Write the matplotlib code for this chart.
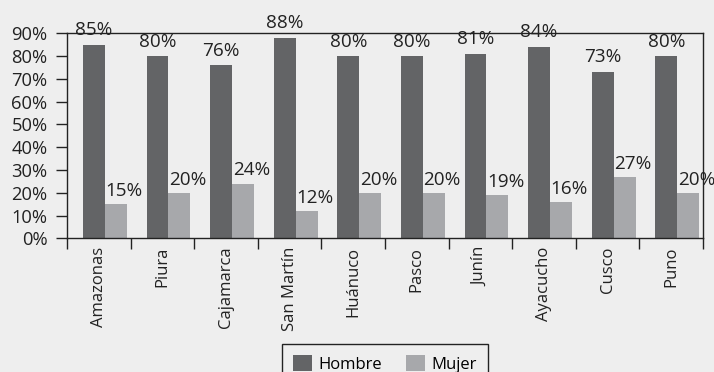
import matplotlib
matplotlib.use("Agg")
import matplotlib.pyplot as plt
import numpy as np

# Data
departamentos = ["Amazonas", "Piura", "Cajamarca", "San Martín", "Huánuco",
                 "Pasco", "Junín", "Ayacucho", "Cusco", "Puno"]
hombre = [85, 80, 76, 88, 80, 80, 81, 84, 73, 80]
mujer = [15, 20, 24, 12, 20, 20, 19, 16, 27, 20]
yticks = [0, 10, 20, 30, 40, 50, 60, 70, 80, 90]

plt.rcParams["font.family"] = ["Open Sans", "DejaVu Sans"]
NUM_SIZE = 13.6
BG = "#eeeeee"
C_H = "#636466"
C_M = "#a7a8ab"
TXT = "#222222"

fig = plt.figure(figsize=(7.14, 3.72), dpi=100, facecolor=BG)
ax = fig.add_axes([0.0938, 0.3594, 0.8908, 0.5511], facecolor=BG)

x = np.arange(len(departamentos))
w = 0.345
bh = ax.bar(x - 0.077, hombre, width=w, color=C_H, label="Hombre", zorder=2)
bm = ax.bar(x + 0.268, mujer, width=w, color=C_M, label="Mujer", zorder=2)

for xi, v in zip(x - 0.077, hombre):
    ax.annotate(f"{v}%", (xi, v), xytext=(0, 4), textcoords="offset points",
                ha="center", va="bottom", fontsize=NUM_SIZE, color=TXT,
                annotation_clip=False)
for xi, v in zip(x + 0.268, mujer):
    ax.annotate(f"{v}%", (xi, v), xytext=(6, 3), textcoords="offset points",
                ha="center", va="bottom", fontsize=NUM_SIZE, color=TXT,
                annotation_clip=False)

ax.set_xlim(-0.5, len(departamentos) - 0.5)
ax.set_ylim(0, 90)
ax.set_yticks(yticks)
ax.set_yticklabels([f"{t}%" for t in yticks], fontsize=NUM_SIZE - 0.4, color=TXT)
ax.tick_params(axis="y", direction="out", length=8, width=1, color=TXT, pad=6)

# boundaries between categories get the tick marks, centres get the names
ax.set_xticks(np.arange(len(departamentos) + 1) - 0.5)
ax.set_xticklabels([])
ax.tick_params(axis="x", which="major", direction="out", length=8, width=1, color=TXT)
ax.set_xticks(x, minor=True)
ax.set_xticklabels(departamentos, minor=True, rotation=90, fontsize=12, color=TXT)
ax.tick_params(axis="x", which="minor", length=0, pad=6)

for s in ax.spines.values():
    s.set_color(TXT)
    s.set_linewidth(1)

leg = fig.legend(handles=[bh, bm], labels=["Hombre", "Mujer"], loc="upper center",
                 bbox_to_anchor=(385 / 714, 1 - 344 / 372), borderaxespad=0,
                 ncol=2, fontsize=12, frameon=True, fancybox=False,
                 edgecolor=TXT, facecolor=BG, framealpha=1,
                 handlelength=1.15, handleheight=1.15, columnspacing=1.4,
                 handletextpad=0.4, borderpad=0.65)
leg.get_frame().set_linewidth(1)

fig.savefig("out.png", dpi=100, facecolor=BG)
